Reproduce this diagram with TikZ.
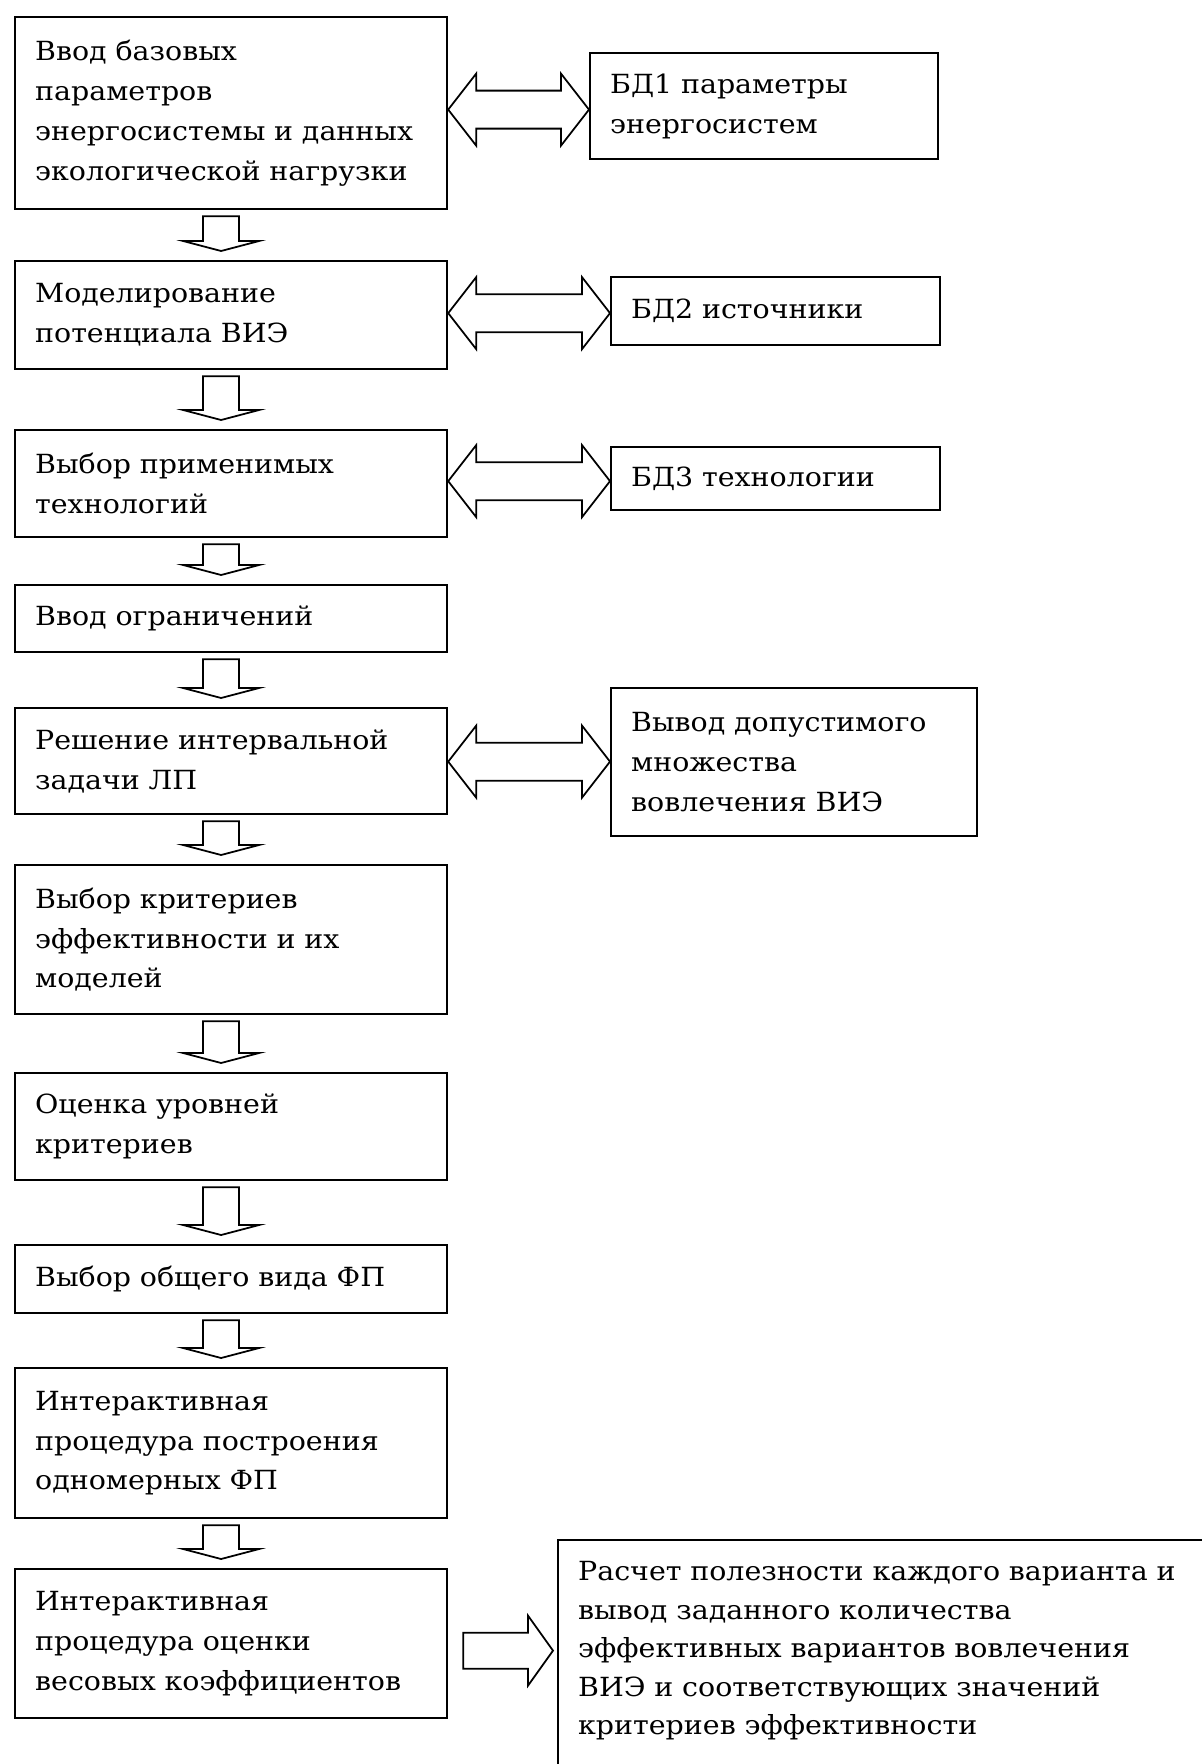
\documentclass[tikz,border=0pt]{standalone}
\usepackage{fontspec}
\setmainfont{DejaVu Serif}[FakeStretch=1.08]
\usepackage{tikz}
\usetikzlibrary{calc}

\begin{document}
\begin{tikzpicture}[x=0.02cm,y=-0.02cm,
  stagebox/.style={draw,line width=1.3pt,anchor=north west,align=left,
    inner xsep=0.4cm,text width=#1,font=\fontsize{15}{22.7}\selectfont},
  blockarrow/.style={draw,line width=1pt,line join=miter}]
\useasboundingbox (0,0) rectangle (1202,1764);
\node[stagebox=7.84cm,minimum height=3.84cm] (b1) at (14,16) {Ввод базовых\\параметров\\энергосистемы и данных\\экологической нагрузки};
\node[stagebox=7.84cm,minimum height=2.16cm] (b2) at (14,260) {Моделирование\\потенциала ВИЭ};
\node[stagebox=7.84cm,minimum height=2.14cm] (b3) at (14,429) {Выбор применимых\\технологий};
\node[stagebox=7.84cm,minimum height=1.34cm] (b4) at (14,584) {Ввод ограничений};
\node[stagebox=7.84cm,minimum height=2.12cm] (b5) at (14,707) {Решение интервальной\\задачи ЛП};
\node[stagebox=7.84cm,minimum height=2.98cm] (b6) at (14,864) {Выбор критериев\\эффективности и их\\моделей};
\node[stagebox=7.84cm,minimum height=2.14cm] (b7) at (14,1072) {Оценка уровней\\критериев};
\node[stagebox=7.84cm,minimum height=1.36cm] (b8) at (14,1244) {Выбор общего вида ФП};
\node[stagebox=7.84cm,minimum height=3.00cm] (b9) at (14,1367) {Интерактивная\\процедура построения\\одномерных ФП};
\node[stagebox=7.84cm,minimum height=2.98cm] (b10) at (14,1568) {Интерактивная\\процедура оценки\\весовых коэффициентов};
\node[stagebox=6.16cm,minimum height=2.12cm] (db1) at (589,52) {БД1 параметры\\энергосистем};
\node[stagebox=5.78cm,minimum height=1.36cm] (db2) at (610,276) {БД2 источники};
\node[stagebox=5.78cm,minimum height=1.26cm] (db3) at (610,446) {БД3 технологии};
\node[stagebox=6.52cm,minimum height=2.96cm] (out) at (610,687) {Вывод допустимого\\множества\\вовлечения ВИЭ};
\node[stagebox=12.8cm,inner ysep=0.42cm,font=\fontsize{15}{22}\selectfont] (fin) at (557,1539) {Расчет полезности каждого варианта и\\вывод заданного количества\\эффективных вариантов вовлечения\\ВИЭ и соответствующих значений\\критериев эффективности\\[0.6cm]\mbox{}};
\foreach \a/\b in {b1/b2,b2/b3,b3/b4,b4/b5,b5/b6,b6/b7,b7/b8,b8/b9,b9/b10}{
  \coordinate (t) at ($(\a.south)+(-10,6)$);
  \coordinate (h) at ($(\b.north)+(-10,-9)$);
  \draw[blockarrow] ($(t)+(-18,0)$) -- ($(h)+(-18,-10)$) -- ($(h)+(-38,-10)$) -- (h)
    -- ($(h)+(38,-10)$) -- ($(h)+(18,-10)$) -- ($(t)+(18,0)$) -- cycle;
}
\foreach \a/\b in {b1/db1,b2/db2,b3/db3,b5/out}{
  \coordinate (m) at ($(\a.east)!0.5!(\b.west)$);
  \coordinate (l) at (\a.east |- m);
  \coordinate (r) at (\b.west |- m);
  \draw[blockarrow] (l) -- ($(l)+(28,-36)$) -- ($(l)+(28,-19)$) -- ($(r)+(-28,-19)$)
    -- ($(r)+(-28,-36)$) -- (r) -- ($(r)+(-28,36)$) -- ($(r)+(-28,19)$)
    -- ($(l)+(28,19)$) -- ($(l)+(28,36)$) -- cycle;
}
\coordinate (s) at ($(b10.east)+(15,7)$);
\coordinate (e) at ($(b10.east -| fin.west)+(-4,7)$);
\draw[blockarrow] ($(s)+(0,-18)$) -- ($(e)+(-25,-18)$) -- ($(e)+(-25,-35)$) -- (e)
  -- ($(e)+(-25,35)$) -- ($(e)+(-25,18)$) -- ($(s)+(0,18)$) -- cycle;
\end{tikzpicture}
\end{document}
